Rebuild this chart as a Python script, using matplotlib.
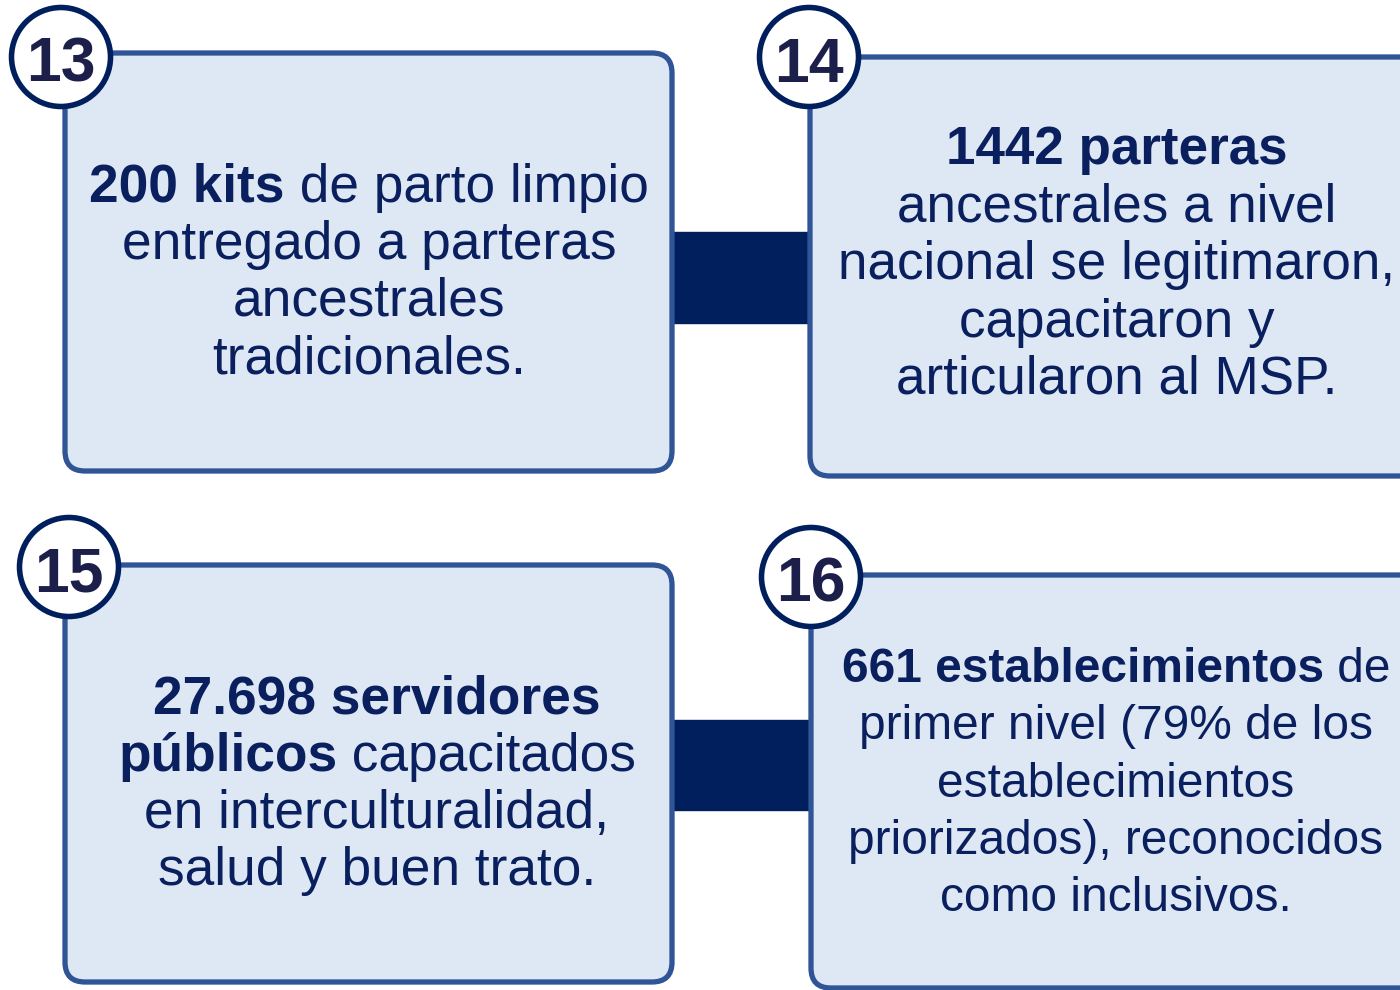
import matplotlib.pyplot as plt
from matplotlib.patches import FancyBboxPatch, Circle, Rectangle

plt.rcParams['font.family'] = ['Liberation Sans', 'DejaVu Sans']

# card contents: each line is a list of (text, bold) pieces
numbers = ['13', '14', '15', '16']
card_lines = [
    [[('200 kits', True), (' de parto limpio', False)],
     [('entregado a parteras', False)],
     [('ancestrales', False)],
     [('tradicionales.', False)]],
    [[('1442 parteras', True)],
     [('ancestrales a nivel', False)],
     [('nacional se legitimaron,', False)],
     [('capacitaron y', False)],
     [('articularon al MSP.', False)]],
    [[('27.698 servidores', True)],
     [('públicos', True), (' capacitados', False)],
     [('en interculturalidad,', False)],
     [('salud y buen trato.', False)]],
    [[('661 establecimientos', True), (' de', False)],
     [('primer nivel (79% de los', False)],
     [('establecimientos', False)],
     [('priorizados), reconocidos', False)],
     [('como inclusivos.', False)]],
]

# layout (pixel coordinates, y downwards)
boxes = [(65, 53, 672, 471), (810, 57, 1420, 476),
         (65, 565, 672, 982), (811, 575, 1420, 988)]
circles = [(61, 57), (809, 57), (69, 567), (811, 577)]
text_cx = [369, 1117, 377, 1116]
first_base = [202, 164, 714, 682]
line_step = [57, 57.5, 57, 57.3]
font_sz = [38.3, 38.2, 38.3, 34.5]
connectors = [(672, 232, 810, 323), (672, 720, 811, 810)]

navy = '#001F5C'
text_col = '#0A1F5E'
edge = '#2F5597'
fill = '#DEE8F5'

fig = plt.figure(figsize=(14, 9.9), dpi=100)
ax = fig.add_axes([0, 0, 1, 1])
ax.set_xlim(0, 1400)
ax.set_ylim(990, 0)
ax.axis('off')

for x0, y0, x1, y1 in connectors:
    ax.add_patch(Rectangle((x0, y0), x1 - x0, y1 - y0, color=navy, zorder=1))

for x0, y0, x1, y1 in boxes:
    ax.add_patch(FancyBboxPatch((x0 + 20, y0 + 20), x1 - x0 - 40, y1 - y0 - 40,
                                boxstyle='round,pad=20', fc=fill, ec=edge,
                                lw=3.8, zorder=2))

for (cx, cy), num in zip(circles, numbers):
    ax.add_patch(Circle((cx, cy), 49.5, fc='white', ec=navy, lw=4, zorder=3))
    ax.text(cx, cy + 25, num, ha='center', va='baseline', fontsize=45,
            fontweight='bold', color='#1C1F4A', zorder=4)

fig.canvas.draw()
renderer = fig.canvas.get_renderer()


def width_px(s, bold, size):
    t = ax.text(0, 0, s, fontsize=size, fontweight='bold' if bold else 'normal')
    w = t.get_window_extent(renderer).width
    t.remove()
    return w


for lines, cx, yb, step, size in zip(card_lines, text_cx, first_base, line_step, font_sz):
    for i, pieces in enumerate(lines):
        widths = [width_px(s, b, size) for s, b in pieces]
        x = cx - sum(widths) / 2
        for (s, b), w in zip(pieces, widths):
            ax.text(x, yb + i * step, s, ha='left', va='baseline', fontsize=size,
                    fontweight='bold' if b else 'normal', color=text_col, zorder=4)
            x += w

fig.savefig('out.png', dpi=100)
